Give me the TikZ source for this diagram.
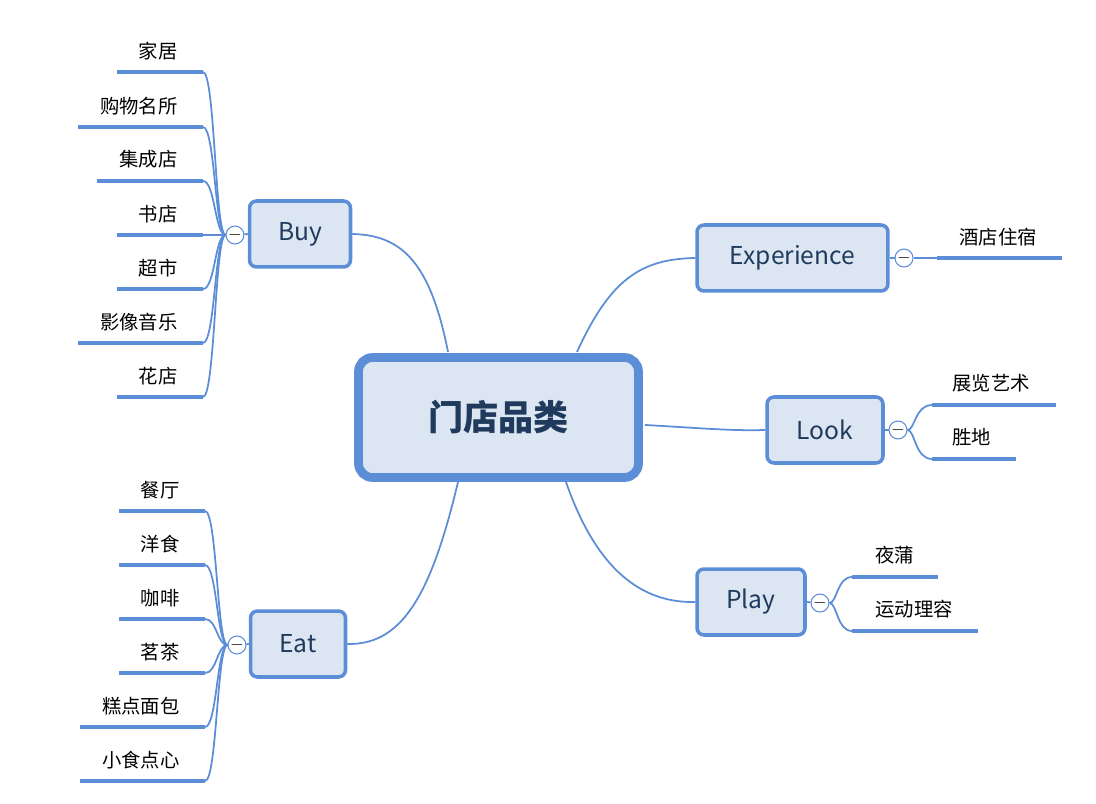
\documentclass[tikz,border=0pt]{standalone}
\usepackage{fontspec}
\setmainfont{Noto Sans CJK SC}
\usetikzlibrary{positioning}
\definecolor{edgeblue}{HTML}{5B8ED6}
\definecolor{boxfill}{HTML}{DCE6F2}
\definecolor{inkblue}{HTML}{1F3A5C}
\tikzset{
  topic/.style={draw=edgeblue,line width=2pt,fill=boxfill,rounded corners=4pt,text=inkblue,font=\fontsize{14}{16}\selectfont,inner sep=0pt},
  root/.style={topic,line width=5pt,rounded corners=8pt,font=\fontsize{20}{24}\selectfont\bfseries},
  fold/.style={circle,draw=edgeblue,fill=white,line width=0.6pt,minimum size=10pt,inner sep=0pt},
  link/.style={edgeblue,line width=1pt},
  bar/.style={edgeblue,line width=2.5pt},
  leaf/.style={font=\fontsize{11}{13}\selectfont,text=black,inner sep=0pt}
}
\begin{document}
\begin{tikzpicture}[x=0.02cm,y=-0.02cm]
  \useasboundingbox (0,0) rectangle (1096,804);

  % main topics
  \node[root,minimum width=5.6cm,minimum height=2.4cm] (store) at (498.5,417.5) {门店品类};
  \node[topic,minimum width=2.02cm,minimum height=1.32cm] (buy) at (300,234) {Buy};
  \node[topic,minimum width=1.9cm,minimum height=1.32cm] (eat) at (298,644) {Eat};
  \node[topic,minimum width=3.82cm,minimum height=1.32cm] (exp) at (792.5,258) {Experience};
  \node[topic,minimum width=2.32cm,minimum height=1.32cm] (look) at (825,430) {Look};
  \node[topic,minimum width=2.16cm,minimum height=1.32cm] (play) at (751,602) {Play};

  \draw[link] (448,352) .. controls (430,260) and (400,235) .. (buy.east);
  \draw[link] (458,482) .. controls (430,600) and (400,645) .. (eat.east);
  \draw[link] (577,352) .. controls (610,280) and (640,259) .. (exp.west);
  \draw[link] (645,425) .. controls (700,428) and (730,431) .. (look.west);
  \draw[link] (566,482) .. controls (600,580) and (650,603) .. (play.west);

  % Buy leaves
  \node[fold] (buyfold) at (235,235) {$-$};
  \draw[link] (buy.west) -- (buyfold);
  \foreach \y/\l/\t in {72/117/家居,127/78/购物名所,181/97/集成店,235/117/书店,289/117/超市,343/78/影像音乐,397/117/花店}{
    \coordinate (b\y) at (203,\y);
    \draw[bar] (\l,\y) -- (b\y);
    \node[leaf,anchor=south east] at (178,\y-12) {\t};
    \draw[link] (buyfold.west) .. controls (215,235) and (215,\y) .. (b\y);
  }

  % Eat leaves
  \node[fold] (eatfold) at (237,645) {$-$};
  \draw[link] (eat.west) -- (eatfold);
  \foreach \y/\l/\t in {511/119/餐厅,565/119/洋食,619/119/咖啡,673/119/茗茶,727/80/糕点面包,781/80/小食点心}{
    \coordinate (e\y) at (205,\y);
    \draw[bar] (\l,\y) -- (e\y);
    \node[leaf,anchor=south east] at (180,\y-12) {\t};
    \draw[link] (eatfold.west) .. controls (217,645) and (217,\y) .. (e\y);
  }

  % Experience leaf
  \node[fold] (expfold) at (904,258) {$-$};
  \draw[link] (exp.east) -- (expfold);
  \coordinate (x258) at (937,258);
  \draw[link] (expfold) -- (x258);
  \draw[bar] (x258) -- (1062,258);
  \node[leaf,anchor=south] at (998,246) {酒店住宿};

  % Look leaves
  \node[fold] (lookfold) at (898,430) {$-$};
  \draw[link] (look.east) -- (lookfold);
  \foreach \y/\r/\t in {405/1056/展览艺术,459/1016/胜地}{
    \coordinate (l\y) at (932,\y);
    \draw[bar] (l\y) -- (\r,\y);
    \node[leaf,anchor=south west] at (952,\y-13) {\t};
    \draw[link] (lookfold.east) .. controls (915,430) and (915,\y) .. (l\y);
  }

  % Play leaves
  \node[fold] (playfold) at (820,603) {$-$};
  \draw[link] (play.east) -- (playfold);
  \foreach \y/\r/\t in {577/938/夜蒲,631/978/运动理容}{
    \coordinate (p\y) at (852,\y);
    \draw[bar] (p\y) -- (\r,\y);
    \node[leaf,anchor=south west] at (875,\y-13) {\t};
    \draw[link] (playfold.east) .. controls (837,603) and (837,\y) .. (p\y);
  }
\end{tikzpicture}
\end{document}
